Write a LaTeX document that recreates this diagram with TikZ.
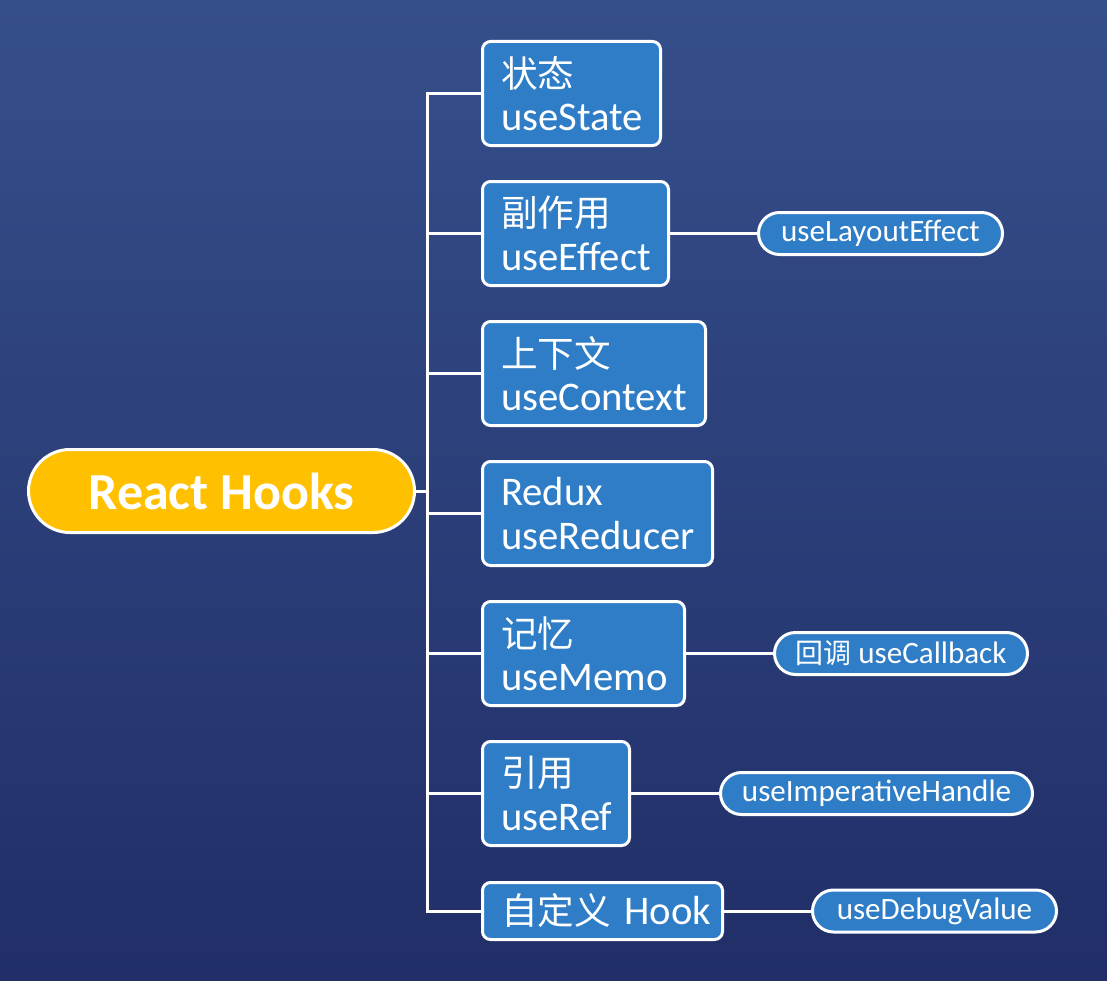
\documentclass[tikz,border=0pt]{standalone}
\usepackage{fontspec}
\setmainfont{Carlito}
\newfontfamily\cjk{Noto Sans CJK SC}[Scale=0.9]
\usetikzlibrary{shapes.misc,calc}
\definecolor{bgtop}{HTML}{354F8B}
\definecolor{bgbot}{HTML}{212E67}
\definecolor{boxblue}{HTML}{2E7DC6}
\definecolor{gold}{HTML}{FFC000}
\tikzset{
  conn/.style={draw=white, line width=2.25pt},
  hookbox/.style={draw=white, line width=2.25pt, fill=boxblue, rounded corners=6pt,
    text=white, align=left, inner xsep=14pt, inner ysep=0pt, minimum height=78pt,
    font=\fontsize{30.5}{32.5}\selectfont, anchor=west},
  pill/.style={draw=white, line width=2.25pt, fill=boxblue, rounded rectangle,
    text=white, minimum height=31.5pt, inner sep=0pt, font=\fontsize{23.3}{25}\selectfont},
  rootnode/.style={draw=white, line width=2.25pt, fill=gold, rounded rectangle,
    text=white, minimum height=62.25pt, minimum width=289.5pt, inner sep=0pt,
    font=\fontsize{39}{42}\selectfont\bfseries}
}
\begin{document}
\begin{tikzpicture}[x=0.75pt,y=-0.75pt]
  \shade[top color=bgtop, bottom color=bgbot] (0,0) rectangle (1107,981);
  \useasboundingbox (0,0) rectangle (1107,981);

  \node[rootnode] (root) at (221.5,491) {React Hooks};

  \node[hookbox, text width=105.5pt] (b1) at (481,93.5) {{\cjk 状态}\\useState};
  \node[hookbox, text width=111.5pt] (b2) at (481,233.5) {{\cjk 副作用}\\useEffect};
  \node[hookbox, text width=139.25pt] (b3) at (481,373.5) {{\cjk 上下文}\\useContext};
  \node[hookbox, text width=144.5pt] (b4) at (481,513.5) {Redux\\useReducer};
  \node[hookbox, text width=123.5pt] (b5) at (481,653.5) {{\cjk 记忆}\\useMemo};
  \node[hookbox, text width=82.25pt] (b6) at (481,793.5) {{\cjk 引用}\\useRef};
  \node[hookbox, text width=152pt, minimum height=42.75pt] (b7) at (481,911) {\mbox{{\cjk 自定义}~Hook}};

  \node[pill, minimum width=183pt] (p2) at (880.5,233.5) {useLayoutEffect};
  \node[pill, minimum width=189.75pt] (p5) at (901,653.5) {{\cjk 回调}~useCallback};
  \node[pill, minimum width=234pt] (p6) at (876.5,793.5) {useImperativeHandle};
  \node[pill, minimum width=183pt] (p7) at (934.5,911) {useDebugValue};

  \coordinate (tr) at (427,491);
  \draw[conn] (root.east) -- (root.east -| tr);
  \draw[conn, line cap=rect] (tr |- b1.west) -- (tr |- b7.west);
  \foreach \b in {b1,b2,b3,b4,b5,b6,b7}
    \draw[conn] (tr |- \b.west) -- (\b.west);
  \draw[conn] (b2.east) -- (p2.west);
  \draw[conn] (b5.east) -- (p5.west);
  \draw[conn] (b6.east) -- (p6.west);
  \draw[conn] (b7.east) -- (p7.west);
\end{tikzpicture}
\end{document}
